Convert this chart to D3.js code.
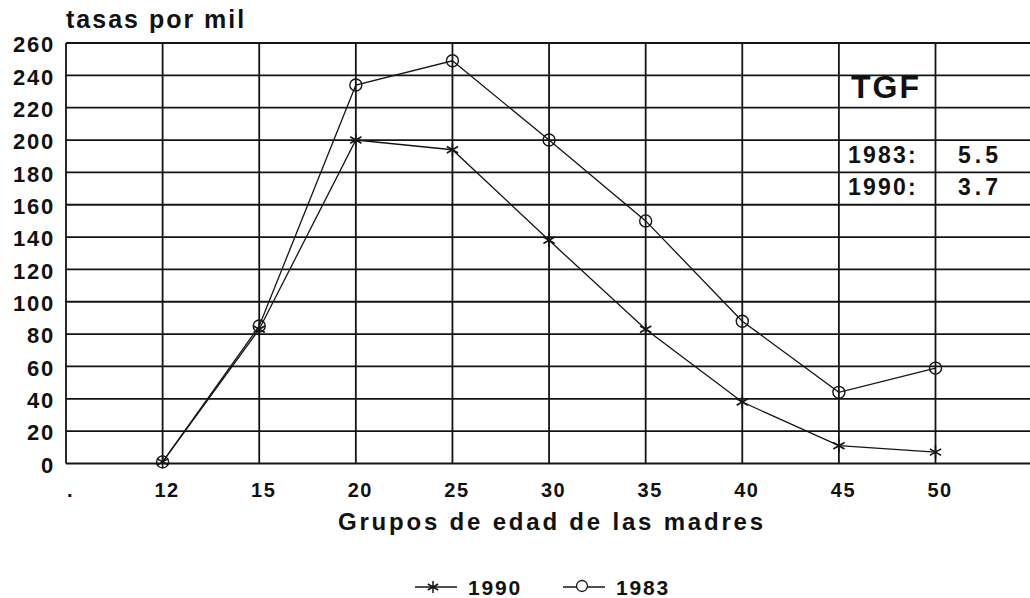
<!DOCTYPE html>
<html>
<head>
<meta charset="utf-8">
<script src="https://cdn.jsdelivr.net/npm/d3@7"></script>
<style>
  html, body { margin: 0; padding: 0; background: #fff; }
  svg { display: block; }
  text { font-family: "Liberation Sans", Arial, Helvetica, sans-serif; font-weight: bold; fill: #111; }
</style>
</head>
<body>
<svg id="chart" width="1030" height="598"></svg>
<script>
// ---- data ----
const categories = [".", "12", "15", "20", "25", "30", "35", "40", "45", "50"];
const ages = ["12", "15", "20", "25", "30", "35", "40", "45", "50"];
const rates1990 = [1, 83, 200, 194, 138, 83, 38, 11, 7];
const rates1983 = [1, 85, 234, 249, 200, 150, 88, 44, 59];
const yTicks = [0, 20, 40, 60, 80, 100, 120, 140, 160, 180, 200, 220, 240, 260];
const tgfLabels = ["1983:", "1990:"];
const tgfValues = ["5.5", "3.7"];
const legendNames = ["1990", "1983"];

// ---- layout ----
const plotLeft = 66, plotRight = 1030, plotTop = 43, plotBottom = 463.5;
const svg = d3.select("#chart");
const ink = "#141414";

const x = d3.scalePoint().domain(categories).range([plotLeft, 935.5]);
const y = d3.scaleLinear().domain([0, 260]).range([plotBottom, plotTop]);

// grid: horizontal
svg.append("g").selectAll("line").data(yTicks).join("line")
  .attr("x1", plotLeft).attr("x2", plotRight)
  .attr("y1", d => y(d)).attr("y2", d => y(d))
  .attr("stroke", ink).attr("stroke-width", 1.8);
// grid: vertical
svg.append("g").selectAll("line").data(categories).join("line")
  .attr("x1", d => x(d)).attr("x2", d => x(d))
  .attr("y1", y(260)).attr("y2", y(0))
  .attr("stroke", ink).attr("stroke-width", 1.8);

// y axis labels
const yAxis = d3.axisLeft(y).tickValues(yTicks).tickSize(0).tickPadding(0);
const gy = svg.append("g").attr("transform", `translate(${plotLeft - 11},0)`).call(yAxis);
gy.select(".domain").remove();
gy.selectAll("text")
  .attr("dy", "0.4em")
  .style("font-size", "22px").style("letter-spacing", "1.8px")
  .style("font-family", '"Liberation Sans", Arial, sans-serif').style("font-weight", "bold")
  .attr("fill", "#111");

// x axis labels
const xAxis = d3.axisBottom(x).tickSize(0).tickPadding(0);
const gx = svg.append("g").attr("transform", `translate(4,${plotBottom + 33.5})`).call(xAxis);
gx.select(".domain").remove();
gx.selectAll("text")
  .attr("dy", 0).attr("y", 0)
  .style("font-size", "20px").style("letter-spacing", "1.5px")
  .style("font-family", '"Liberation Sans", Arial, sans-serif').style("font-weight", "bold")
  .attr("fill", "#111");

// y title
svg.append("text").attr("x", 66).attr("y", 28)
  .style("font-size", "25px").style("letter-spacing", "2px")
  .text("tasas por mil");

// x title
svg.append("text").attr("x", 338).attr("y", 530)
  .style("font-size", "24px").style("letter-spacing", "2.8px")
  .text("Grupos de edad de las madres");

// lines
const line = d3.line().x(d => x(d.age)).y(d => y(d.v));
const d1990 = ages.map((a, i) => ({ age: a, v: rates1990[i] }));
const d1983 = ages.map((a, i) => ({ age: a, v: rates1983[i] }));

svg.append("path").datum(d1990).attr("d", line)
  .attr("fill", "none").attr("stroke", ink).attr("stroke-width", 1.3);
svg.append("path").datum(d1983).attr("d", line)
  .attr("fill", "none").attr("stroke", ink).attr("stroke-width", 1.3);

function starPath(r) {
  const t = r / 2, u = t * Math.sqrt(3);
  return `M0,${r}L0,${-r}M${-u},${-t}L${u},${t}M${-u},${t}L${u},${-t}`;
}

svg.append("g").selectAll("path").data(d1990).join("path")
  .attr("transform", d => `translate(${x(d.age)},${y(d.v)})`)
  .attr("d", starPath(6.5))
  .attr("fill", "none").attr("stroke", ink).attr("stroke-width", 1.6);

svg.append("g").selectAll("circle").data(d1983).join("circle")
  .attr("cx", d => x(d.age)).attr("cy", d => y(d.v)).attr("r", 6)
  .attr("fill", "none").attr("stroke", ink).attr("stroke-width", 1.4);

// TGF box text
svg.append("text").attr("x", 851).attr("y", 98)
  .style("font-size", "32px").style("letter-spacing", "2px").text("TGF");
svg.append("g").selectAll("text").data(tgfLabels).join("text")
  .attr("x", 848).attr("y", (d, i) => 163 + i * 32)
  .style("font-size", "23px").style("letter-spacing", "2.2px").text(d => d);
svg.append("g").selectAll("text").data(tgfValues).join("text")
  .attr("x", 958).attr("y", (d, i) => 163 + i * 32)
  .style("font-size", "23px").style("letter-spacing", "4px").text(d => d);

// legend
const legY = 587;
const leg = svg.append("g");
const legX = [415, 563];
legendNames.forEach((name, i) => {
  const lx = legX[i];
  leg.append("line").attr("x1", lx).attr("x2", lx + 42).attr("y1", legY).attr("y2", legY)
    .attr("stroke", ink).attr("stroke-width", 1.3);
  if (i === 0) {
    leg.append("path").attr("transform", `translate(${lx + 18},${legY})`)
      .attr("d", starPath(6)).attr("fill", "none").attr("stroke", ink).attr("stroke-width", 1.5);
  } else {
    leg.append("circle").attr("cx", lx + 19).attr("cy", legY - 1).attr("r", 5.5)
      .attr("fill", "#fff").attr("stroke", ink).attr("stroke-width", 1.3);
  }
  leg.append("text").attr("x", lx + 53).attr("y", legY + 8)
    .style("font-size", "21px").style("letter-spacing", "1.8px").text(name);
});
</script>
</body>
</html>
